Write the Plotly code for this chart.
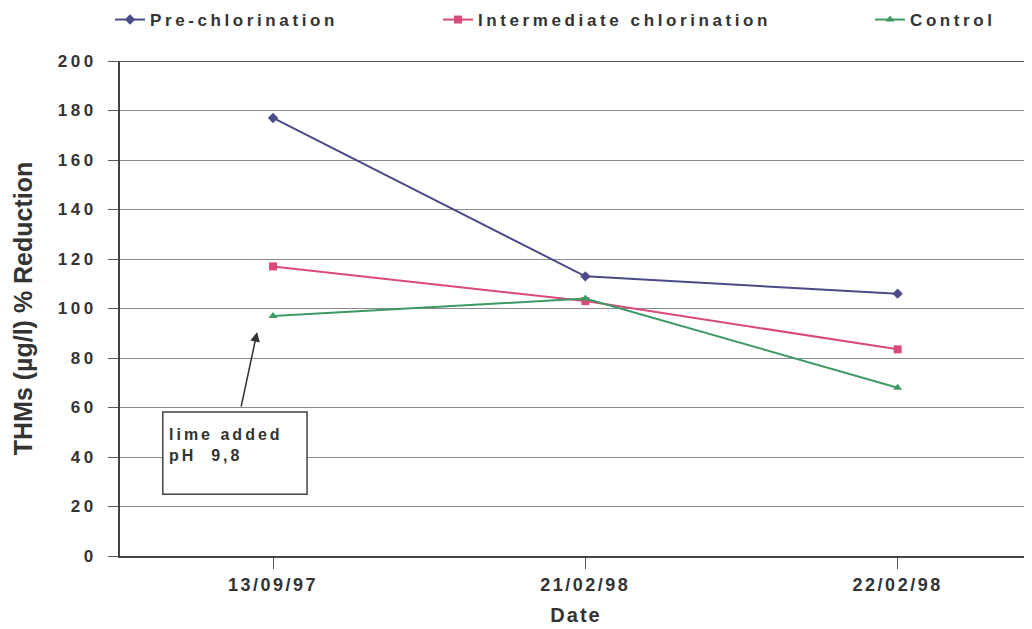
import plotly.graph_objects as go

dates = ["13/09/97", "21/02/98", "22/02/98"]
pre_chlorination = [177, 113, 106]
intermediate_chlorination = [117, 103, 83.5]
control = [97, 104, 68]
y_ticks = [0, 20, 40, 60, 80, 100, 120, 140, 160, 180, 200]

# page body has an 8px margin
W, H = 1024, 621
PLOT_L = 112
PX_PER_CAT = 312.3

def spaced(t, ls=2):
    return f'<span style="letter-spacing:{ls}px">{t}</span>'

fig = go.Figure()
series = [
    ("Pre-chlorination", pre_chlorination, "#4b4b88", "diamond", 8, "legend"),
    ("Intermediate chlorination", intermediate_chlorination, "#d9497a", "square", 8, "legend2"),
    ("Control", control, "#3e9a62", "triangle-up", 8, "legend3"),
]
for name, vals, col, sym, ms, lg in series:
    fig.add_trace(go.Scatter(
        x=dates, y=vals, name=spaced(name, 3.6), mode="lines+markers",
        line=dict(color=col, width=2),
        marker=dict(symbol=sym, size=ms, color=col),
        legend=lg,
    ))

legend_common = dict(orientation="h", xref="container", yref="container",
                     yanchor="middle", y=1 - 12 / H, bgcolor="rgba(0,0,0,0)",
                     font=dict(family="Liberation Sans", size=17, color="#333333", weight="bold"),
                     itemwidth=30)
fig.update_layout(
    legend=dict(x=102 / W, **legend_common),
    legend2=dict(x=430 / W, **legend_common),
    legend3=dict(x=862 / W, **legend_common),
)

x_lo = -0.49
x_hi = x_lo + (W - PLOT_L) / PX_PER_CAT

fig.update_layout(
    width=W, height=H,
    margin=dict(l=PLOT_L, r=0, t=53, b=73),
    plot_bgcolor="white", paper_bgcolor="white",
    showlegend=True,
    font=dict(family="Liberation Sans", color="#333333"),
    xaxis=dict(
        type="category", range=[x_lo, x_hi], automargin=False,
        tickvals=dates, ticktext=[spaced(d, 2.5) for d in dates],
        showgrid=False, showline=True, linecolor="#444444", linewidth=2,
        ticks="outside", ticklen=11, tickcolor="#555555", tickwidth=1,
        tickfont=dict(family="Liberation Sans", size=18, color="#333333", weight="bold"),
        title=dict(text=spaced("Date", 2),
                   font=dict(family="Liberation Sans", size=20, color="#333333", weight="bold"),
                   standoff=14),
    ),
    yaxis=dict(
        range=[0, 200], tickvals=y_ticks, automargin=False,
        ticktext=[spaced(str(v), 3.5) for v in y_ticks],
        showgrid=True, gridcolor="#8a8a8a", gridwidth=1,
        showline=True, linecolor="#444444", linewidth=2,
        ticks="outside", ticklen=10, tickcolor="#555555",
        ticklabelstandoff=8,
        tickfont=dict(family="Liberation Sans", size=17, color="#333333", weight="bold"),
        zeroline=False,
        title=dict(text="THMs (µg/l) % Reduction",
                   font=dict(family="Liberation Sans", size=25, color="#333333", weight="bold"),
                   standoff=18),
    ),
)

# darker top border line
fig.add_shape(type="line", xref="paper", yref="y", x0=0, x1=1, y0=200, y1=200,
              line=dict(color="#555555", width=2))

# annotation box
fig.add_shape(type="rect", xref="x", yref="y", x0=-0.353, x1=0.109, y0=25, y1=58.2,
              line=dict(color="#444444", width=1.5), fillcolor="white")
fig.add_annotation(x=-0.34, y=53.5, xref="x", yref="y", xanchor="left", yanchor="top",
                   text=spaced("lime added", 3) + "<br>" + spaced("pH  9,8", 3),
                   showarrow=False, align="left",
                   font=dict(family="Liberation Sans", size=16, color="#333333", weight="bold"))
fig.add_annotation(x=-0.051, y=90.5, ax=-0.103, ay=59.8, xref="x", yref="y",
                   axref="x", ayref="y", text="", showarrow=True,
                   arrowhead=2, arrowsize=1.3, arrowwidth=1.5, arrowcolor="#333333")

fig.write_html("out.html")
